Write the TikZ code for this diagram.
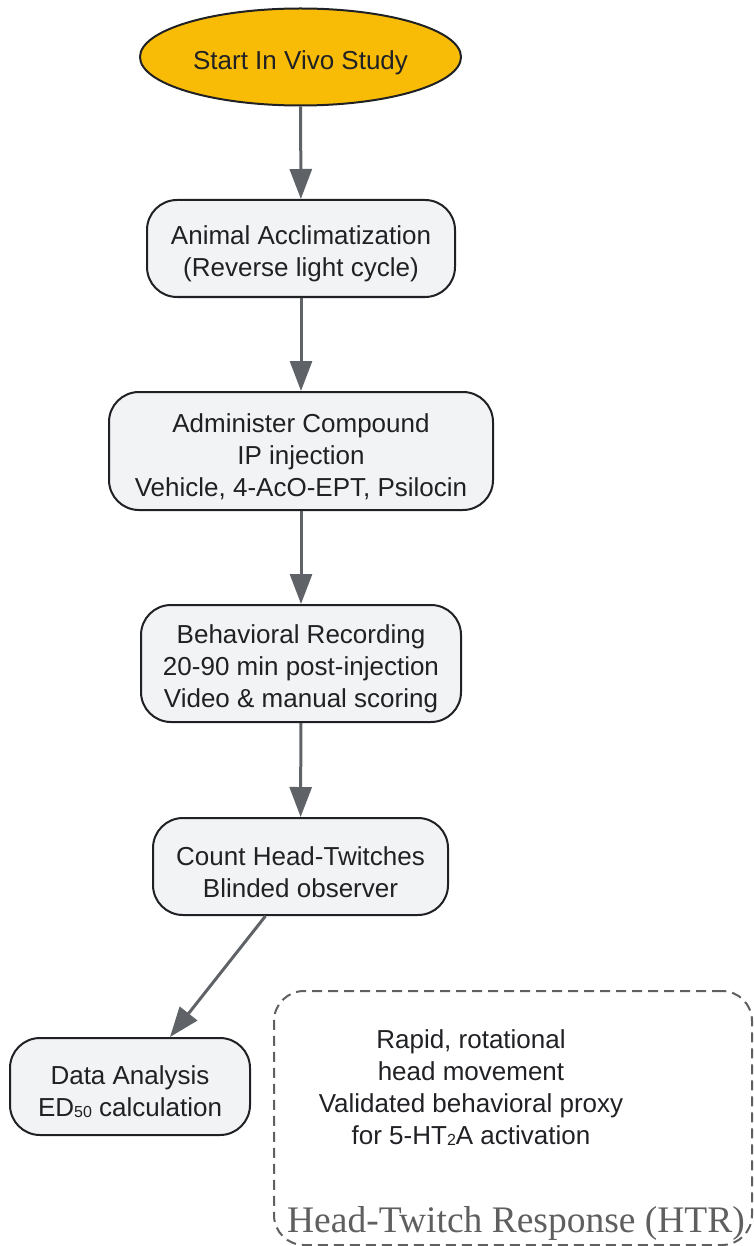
\documentclass[tikz,border=0pt]{standalone}
\usepackage{fontspec}
\setmainfont{Liberation Sans}
\newfontfamily\titlefont{Liberation Serif}
\usetikzlibrary{shapes.geometric, arrows.meta, positioning}

\definecolor{startfill}{HTML}{F9BC06}
\definecolor{boxfill}{HTML}{F1F3F4}
\definecolor{boxline}{HTML}{202124}
\definecolor{arrowgray}{HTML}{5F6368}
\definecolor{htrgray}{HTML}{5F5F5F}

\tikzset{
  stepbox/.style={draw=boxline, fill=boxfill, line width=2pt, rounded corners=30pt,
    align=center, text=boxline, inner sep=0pt},
  flow/.style={draw=arrowgray, line width=3pt, -{Triangle[length=30pt, width=22pt]}}
}

\newcommand{\smalldigits}[1]{\raisebox{-1pt}{\fontsize{16}{16}\selectfont #1}}
\newcommand{\topstrut}{\rule{0pt}{30pt}}

\begin{document}
\begin{tikzpicture}[x=1pt, y=-1pt, font=\fontsize{26}{32}\selectfont]
\useasboundingbox (0,0) rectangle (753,1246);

\node[ellipse, draw=boxline, fill=startfill, line width=2pt, text=boxline,
  minimum width=321pt, minimum height=97pt, inner sep=0pt] (start) at (300.5,57) {\topstrut Start In Vivo Study};
\node[stepbox, minimum width=308pt, minimum height=97pt] (acclim) at (301,248.5)
  {\topstrut Animal Acclimatization\\(Reverse light cycle)};
\node[stepbox, minimum width=384pt, minimum height=118pt] (admin) at (301,451)
  {\topstrut Administer Compound\\IP injection\\Vehicle, 4-AcO-EPT, Psilocin};
\node[stepbox, minimum width=320pt, minimum height=117pt] (record) at (301,663.5)
  {\topstrut Behavioral Recording\\20-90 min post-injection\\Video \& manual scoring};
\node[stepbox, minimum width=295pt, minimum height=97pt] (count) at (300.5,866.5)
  {\topstrut Count Head-Twitches\\Blinded observer};
\node[stepbox, minimum width=240pt, minimum height=97pt] (analysis) at (130,1086.5)
  {\topstrut Data Analysis\\ED\smalldigits{50} calculation};

% dashed group box
\node[draw=htrgray, line width=2pt, dash pattern=on 10pt off 6pt, rounded corners=30pt,
  minimum width=478pt, minimum height=254pt, inner sep=0pt] (htr) at (513,1118) {};
\node[align=center, text=boxline] (htrtext) at (471,1088)
  {Rapid, rotational\\head movement\\Validated behavioral proxy\\for 5-HT\smalldigits{2}A activation};
\node[text=htrgray, font=\titlefont\fontsize{37.5}{37.5}\selectfont, anchor=base] (htrtitle) at (516,1232)
  {Head-Twitch Response (HTR)};

\draw[flow] (start) -- (acclim);
\draw[flow] (acclim) -- (admin);
\draw[flow] (admin) -- (record);
\draw[flow] (record) -- (count);
\draw[flow] ([xshift=-35pt]count.south) -- ([xshift=40pt]analysis.north);
\end{tikzpicture}
\end{document}
